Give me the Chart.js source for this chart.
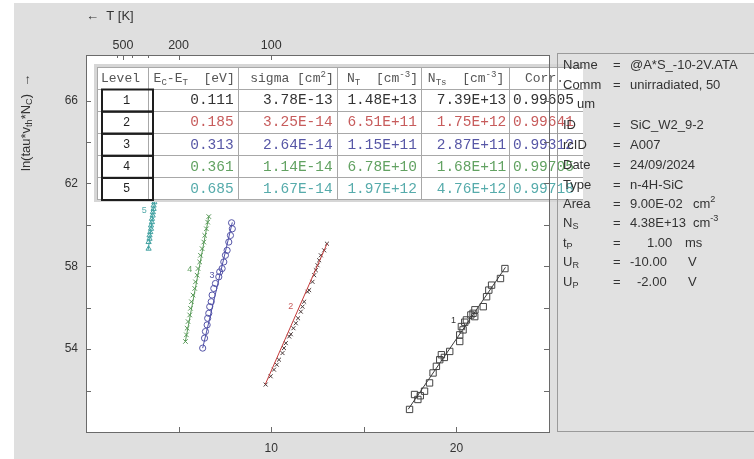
<!DOCTYPE html>
<html>
<head>
<meta charset="utf-8">
<script src="https://cdn.jsdelivr.net/npm/chart.js@4"></script>
<style>
html, body { margin: 0; padding: 0; background: #fff; }
canvas { display: block; }
</style>
</head>
<body>
<canvas id="dlts" width="754" height="459"></canvas>
<script>
// Arrhenius points ln(tau*vth*Nc) vs 1000/T, one pair of arrays per level
const x1 = [17.47, 17.74, 17.92, 18.05, 18.28, 18.55, 18.74, 18.92, 19.10, 19.19, 19.35, 19.64, 20.18, 20.18, 20.36, 20.27, 20.45, 20.54, 20.99, 20.78, 20.90, 21.00, 21.45, 21.63, 21.75, 21.90, 22.38, 22.62];
const y1 = [51.09, 51.81, 51.57, 51.75, 51.97, 52.37, 52.85, 53.17, 53.49, 53.73, 53.60, 53.89, 54.37, 54.69, 54.93, 55.09, 55.30, 55.41, 55.57, 55.65, 55.73, 55.90, 56.05, 56.53, 56.85, 57.09, 57.41, 57.89];
const x2 = [9.70, 9.97, 10.15, 10.30, 10.42, 10.61, 10.69, 10.79, 10.97, 11.06, 11.20, 11.33, 11.45, 11.60, 11.69, 11.78, 11.96, 12.05, 12.23, 12.32, 12.41, 12.50, 12.59, 12.68, 12.86, 13.01];
const y2 = [52.29, 52.69, 53.01, 53.25, 53.49, 53.81, 54.05, 54.29, 54.61, 54.72, 55.01, 55.25, 55.49, 55.81, 56.05, 56.29, 56.77, 56.85, 57.25, 57.57, 57.81, 58.05, 58.29, 58.53, 58.77, 59.09];
const x3 = [6.30, 6.40, 6.45, 6.54, 6.57, 6.63, 6.68, 6.76, 6.81, 6.90, 6.99, 7.17, 7.22, 7.35, 7.44, 7.53, 7.62, 7.71, 7.80, 7.90, 7.86];
const y3 = [54.05, 54.53, 54.85, 55.17, 55.49, 55.73, 56.05, 56.29, 56.61, 56.93, 57.17, 57.49, 57.73, 57.89, 58.21, 58.53, 58.77, 59.17, 59.49, 59.81, 60.10];
const x4 = [5.37, 5.42, 5.46, 5.51, 5.60, 5.64, 5.69, 5.78, 5.87, 5.91, 6.00, 6.05, 6.14, 6.18, 6.27, 6.36, 6.41, 6.50, 6.57, 6.63];
const y4 = [54.37, 54.69, 55.01, 55.33, 55.65, 55.97, 56.29, 56.61, 56.93, 57.25, 57.57, 57.89, 58.21, 58.53, 58.85, 59.17, 59.49, 59.81, 60.13, 60.40];
const x5 = [3.38, 3.38, 3.43, 3.43, 3.47, 3.51, 3.51, 3.56, 3.56, 3.60, 3.61, 3.65, 3.65, 3.69, 3.72, 3.75];
const y5 = [58.85, 59.17, 59.33, 59.49, 59.65, 59.81, 59.97, 60.13, 60.29, 60.45, 60.61, 60.77, 60.93, 61.09, 61.30, 61.50];

// fitted straight lines, ends
const fitX = [[17.40, 22.65], [9.68, 13.02], [6.30, 7.90], [5.36, 6.64], [3.36, 3.76]];
const fitY = [[51.10, 57.95], [52.30, 59.10], [54.05, 60.12], [54.35, 60.45], [58.80, 61.50]];

// small level numbers next to each branch
const tagX = [19.84, 11.06, 6.81, 5.60, 3.14];
const tagY = [55.39, 56.06, 57.54, 57.86, 60.69];

// top axis (temperature) ticks
const tempTicks = [600, 500, 400, 300, 200, 100];
const tempLabels = [500, 200, 100];
const xLabels = [10, 20];
const yLabels = [54, 58, 62, 66];

// result table
const levels = ['1', '2', '3', '4', '5'];
const energies = ['0.111', '0.185', '0.313', '0.361', '0.685'];
const sigmas = ['3.78E-13', '3.25E-14', '2.64E-14', '1.14E-14', '1.67E-14'];
const nT = ['1.48E+13', '6.51E+11', '1.15E+11', '6.78E+10', '1.97E+12'];
const nTs = ['7.39E+13', '1.75E+12', '2.87E+11', '1.68E+11', '4.76E+12'];
const corr = ['0.99605', '0.99641', '0.99312', '0.99705', '0.99718'];

const lineColors = ['#3c3c3c', '#c43a3a', '#4f4fa8', '#5a9c5a', '#3fa3a3'];
const markColors = ['#444444', '#4a3a3a', '#5555a8', '#5a9a5a', '#40a0a0'];
const textColors = ['#333333', '#c75c5c', '#5757a6', '#62a262', '#56abab'];

const sans = '"Liberation Sans", Arial, sans-serif';
const mono = '"Liberation Mono", "Courier New", monospace';
const tf = 14.5;
const hf = 13;

function pts(xs, ys) { return xs.map((x, i) => ({ x: x, y: ys[i] })); }

function setFont(ctx, size, fam) { ctx.font = size + 'px ' + fam; }

function richWidth(ctx, parts, size, fam) {
    let w = 0;
    parts.forEach(p => { setFont(ctx, p[1] ? size * 0.7 : size, fam); w += ctx.measureText(p[0]).width; });
    return w;
}

// parts: [text, 0 normal | 1 sub | 2 sup]
function drawRich(ctx, parts, x, y, size, fam, align) {
    if (align === 'right') x -= richWidth(ctx, parts, size, fam);
    ctx.textAlign = 'left';
    ctx.textBaseline = 'middle';
    parts.forEach(p => {
        setFont(ctx, p[1] ? size * 0.7 : size, fam);
        let dy = p[1] === 1 ? size * 0.3 : (p[1] === 2 ? -size * 0.35 : 0);
        ctx.fillText(p[0], x, y + dy);
        x += ctx.measureText(p[0]).width;
    });
}

const markerStyles = ['rect', 'crossRot', 'circle', 'crossRot', 'triangle'];
const markerSizes = [4.5, 2.8, 3.1, 3.2, 3.0];
const seriesX = [x1, x2, x3, x4, x5];
const seriesY = [y1, y2, y3, y4, y5];

let datasets = [];
for (let i = 0; i < 5; i++) {
    datasets.push({
        label: 'fit ' + (i + 1),
        data: pts(fitX[i], fitY[i]),
        showLine: true,
        borderColor: lineColors[i],
        borderWidth: 1,
        pointRadius: 0
    });
    datasets.push({
        label: 'level ' + (i + 1),
        data: pts(seriesX[i], seriesY[i]),
        showLine: false,
        pointStyle: markerStyles[i],
        pointRadius: markerSizes[i],
        borderColor: markColors[i],
        backgroundColor: 'rgba(0,0,0,0)',
        pointBorderWidth: 1
    });
}

const isIn = (v, list) => list.some(k => Math.abs(v - k) < 1e-6);

const framePlugin = {
    id: 'frame',
    beforeDraw(chart) {
        const ctx = chart.ctx, a = chart.chartArea;
        ctx.save();
        ctx.fillStyle = '#ffffff';
        ctx.fillRect(0, 0, 754, 459);
        ctx.fillStyle = '#dfdfdf';
        ctx.fillRect(14, 3, 740, 456);
        ctx.fillStyle = '#ffffff';
        ctx.fillRect(a.left, a.top, a.right - a.left, a.bottom - a.top);
        ctx.fillStyle = '#e1e1e1';
        ctx.fillRect(557, 53, 197, 379);
        ctx.restore();
    },
    afterDatasetsDraw(chart) {
        const ctx = chart.ctx, a = chart.chartArea;
        const xs = chart.scales.x, ys = chart.scales.y;
        ctx.save();

        // level numbers
        for (let i = 0; i < 5; i++) {
            ctx.fillStyle = textColors[i];
            setFont(ctx, 9, sans);
            ctx.textAlign = 'center';
            ctx.textBaseline = 'middle';
            ctx.fillText(String(i + 1), xs.getPixelForValue(tagX[i]), ys.getPixelForValue(tagY[i]));
        }

        // result table
        ctx.save();
        ctx.beginPath();
        ctx.rect(0, 0, 583, 459);
        ctx.clip();
        const tl = 97, tt = 67, hh = 21.5, rh = 22.1;
        const cols = [97, 148, 237.7, 336.7, 421, 509.3, 600];
        const tb = tt + hh + 5 * rh;
        ctx.fillStyle = '#d6d6d6';
        ctx.fillRect(tl - 3, tt - 3, 600 - tl + 6, tb - tt + 6);
        ctx.fillStyle = '#ffffff';
        ctx.fillRect(tl, tt, 600 - tl, tb - tt);
        ctx.strokeStyle = '#a8a8a8';
        ctx.lineWidth = 1;
        ctx.beginPath();
        cols.forEach(c => { ctx.moveTo(Math.round(c) + 0.5, tt); ctx.lineTo(Math.round(c) + 0.5, tb); });
        for (let r = 0; r <= 5; r++) {
            const yy = Math.round(tt + hh + r * rh) + 0.5;
            ctx.moveTo(tl, yy); ctx.lineTo(600, yy);
        }
        ctx.moveTo(tl, tt + 0.5); ctx.lineTo(600, tt + 0.5);
        ctx.stroke();

        // header
        ctx.fillStyle = '#555555';
        const hy = tt + hh / 2 + 1;
        drawRich(ctx, [['Level', 0]], 101, hy, hf, mono);
        drawRich(ctx, [['E', 0], ['C', 1], ['-E', 0], ['T', 1], ['  [eV]', 0]], cols[2] - 3, hy, hf, mono, 'right');
        drawRich(ctx, [['sigma [cm', 0], ['2', 2], [']', 0]], cols[3] - 3, hy, hf, mono, 'right');
        drawRich(ctx, [['N', 0], ['T', 1], ['  [cm', 0], ['-3', 2], [']', 0]], cols[4] - 3, hy, hf, mono, 'right');
        drawRich(ctx, [['N', 0], ['Ts', 1], ['  [cm', 0], ['-3', 2], [']', 0]], cols[5] - 5, hy, hf, mono, 'right');
        drawRich(ctx, [['Corr.', 0]], 525, hy, hf, mono);

        for (let r = 0; r < 5; r++) {
            const top = tt + hh + r * rh;
            const cy = top + rh / 2 + 1;
            ctx.fillStyle = '#222222';
            drawRich(ctx, [[levels[r], 0]], 123, cy, 12, mono);
            ctx.fillStyle = textColors[r];
            drawRich(ctx, [[energies[r], 0]], cols[2] - 4, cy, tf, mono, 'right');
            drawRich(ctx, [[sigmas[r], 0]], cols[3] - 4, cy, tf, mono, 'right');
            drawRich(ctx, [[nT[r], 0]], cols[4] - 4, cy, tf, mono, 'right');
            drawRich(ctx, [[nTs[r], 0]], cols[5] - 3, cy, tf, mono, 'right');
            drawRich(ctx, [[corr[r], 0]], 513, cy, tf, mono);
        }
        ctx.strokeStyle = '#1e1e1e';
        ctx.lineWidth = 2;
        for (let r = 0; r < 5; r++) {
            const top = tt + hh + r * rh;
            ctx.strokeRect(102, top + 1, 51, rh);
        }
        ctx.restore();

        // plot frame
        ctx.strokeStyle = '#6a6a6a';
        ctx.lineWidth = 1;
        ctx.strokeRect(a.left + 0.5, a.top + 0.5, a.right - a.left, a.bottom - a.top);

        // inward tick marks
        ctx.beginPath();
        xs.ticks.forEach(t => {
            if (t.value <= xs.min || t.value >= xs.max) return;
            const px = Math.round(xs.getPixelForValue(t.value)) + 0.5;
            ctx.moveTo(px, a.bottom); ctx.lineTo(px, a.bottom - 5);
        });
        ys.ticks.forEach(t => {
            if (t.value <= ys.min || t.value >= ys.max) return;
            const py = Math.round(ys.getPixelForValue(t.value)) + 0.5;
            ctx.moveTo(a.left, py); ctx.lineTo(a.left + 5, py);
            ctx.moveTo(a.right, py); ctx.lineTo(a.right - 5, py);
        });
        const ts = chart.scales.xTop;
        ts.ticks.forEach(t => {
            const px = Math.round(ts.getPixelForValue(t.value)) + 0.5;
            const len = isIn(Math.round(1000 / t.value), tempLabels) ? 5 : 3;
            ctx.moveTo(px, a.top); ctx.lineTo(px, a.top + len);
        });
        ctx.stroke();

        // info panel
        ctx.strokeStyle = '#9a9a9a';
        ctx.strokeRect(557.5, 53.5, 200, 378);
        ctx.fillStyle = '#333333';
        const rows = [
            [[['Name', 0]], [['@A*S_-10-2V.ATA', 0]], 630, 65],
            [[['Comm', 0]], [['unirradiated, 50', 0]], 630, 85],
            [null, [['um', 0]], 577, 104],
            [[['ID', 0]], [['SiC_W2_9-2', 0]], 630, 125],
            [[['rcID', 0]], [['A007', 0]], 630, 145],
            [[['Date', 0]], [['24/09/2024', 0]], 630, 165],
            [[['Type', 0]], [['n-4H-SiC', 0]], 630, 185],
            [[['Area', 0]], [['9.00E-02', 0]], 630, 204, [['cm', 0], ['2', 2]], 693],
            [[['N', 0], ['S', 1]], [['4.38E+13', 0]], 630, 223, [['cm', 0], ['-3', 2]], 693],
            [[['t', 0], ['P', 1]], [['1.00', 0]], 647, 243, [['ms', 0]], 685],
            [[['U', 0], ['R', 1]], [['-10.00', 0]], 630, 262, [['V', 0]], 688],
            [[['U', 0], ['P', 1]], [['-2.00', 0]], 637, 282, [['V', 0]], 688]
        ];
        rows.forEach(r => {
            if (r[0]) {
                drawRich(ctx, r[0], 563, r[3], 13, sans);
                drawRich(ctx, [['=', 0]], 613, r[3], 13, sans);
            }
            drawRich(ctx, r[1], r[2], r[3], 13, sans);
            if (r[4]) drawRich(ctx, r[4], r[5], r[3], 13, sans);
        });

        // y axis title
        ctx.translate(26, 171);
        ctx.rotate(-Math.PI / 2);
        ctx.fillStyle = '#333333';
        drawRich(ctx, [['ln(tau*v', 0], ['th', 1], ['*N', 0], ['C', 1], [')  \u2192', 0]], 0, 0, 13, sans);
        ctx.restore();
    }
};

new Chart(document.getElementById('dlts'), {
    type: 'scatter',
    data: { datasets: datasets },
    options: {
        responsive: false,
        animation: false,
        devicePixelRatio: 1,
        layout: { padding: { left: 0, right: 205, top: 0, bottom: 0 } },
        plugins: { legend: { display: false }, tooltip: { enabled: false } },
        scales: {
            x: {
                type: 'linear', position: 'bottom', min: 0, max: 25,
                grid: { display: false, drawTicks: false },
                border: { display: false },
                ticks: {
                    stepSize: 5, padding: 9, color: '#333', font: { family: sans, size: 12 },
                    autoSkip: false, maxRotation: 0,
                    callback: v => isIn(v, xLabels) ? String(v) : ''
                },
                afterFit: s => { s.height = 27; }
            },
            xTop: {
                type: 'linear', position: 'top', min: 0, max: 25,
                grid: { display: false, drawTicks: false },
                border: { display: false },
                afterBuildTicks: s => { s.ticks = tempTicks.map(t => ({ value: 1000 / t })); },
                ticks: {
                    padding: 2, color: '#333', font: { family: sans, size: 12.5 },
                    autoSkip: false, maxRotation: 0,
                    callback: v => { const t = Math.round(1000 / v); return isIn(t, tempLabels) ? String(t) : ''; }
                },
                title: {
                    display: true, text: '\u2190  T [K]', align: 'start', color: '#333',
                    font: { family: sans, size: 13 }, padding: { top: 9, bottom: 0 }
                },
                afterFit: s => { s.height = 55; }
            },
            y: {
                type: 'linear', position: 'left', min: 50, max: 68.2,
                grid: { display: false, drawTicks: false },
                border: { display: false },
                ticks: {
                    stepSize: 2, padding: 8, color: '#333', font: { family: sans, size: 12 },
                    autoSkip: false,
                    callback: v => isIn(v, yLabels) ? String(v) : ''
                },
                afterFit: s => { s.width = 86; }
            }
        }
    },
    plugins: [framePlugin]
});
</script>
</body>
</html>
